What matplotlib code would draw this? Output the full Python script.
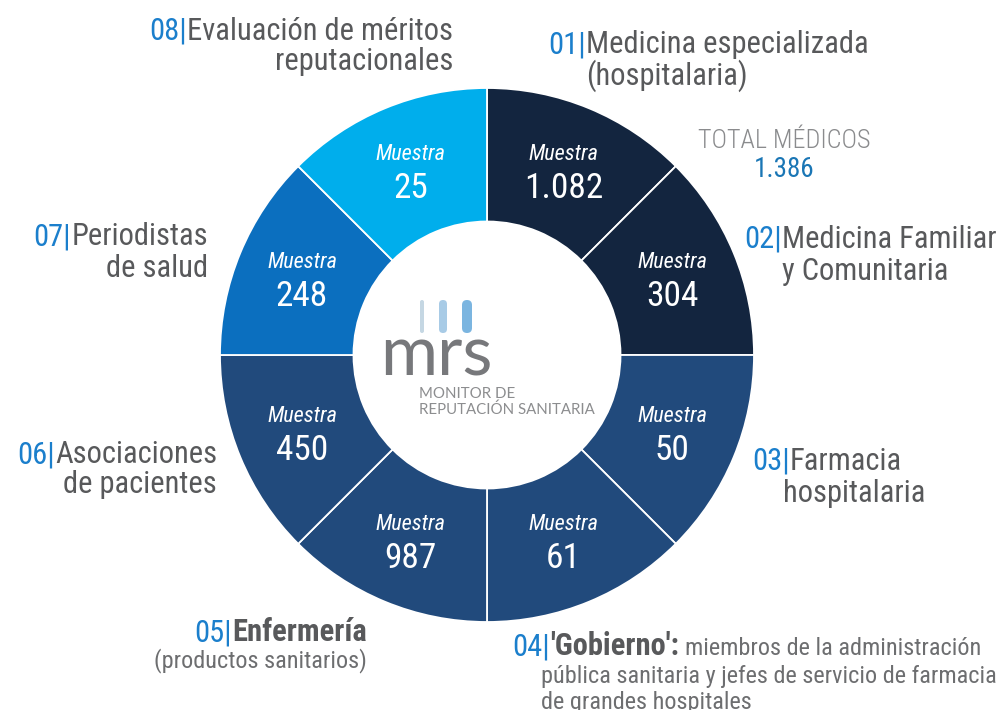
"""
Muestra por grupo de interés: donut de 8 sectores iguales con etiquetas.
"""

import matplotlib
matplotlib.use("Agg")
import matplotlib.pyplot as plt
import numpy as np
from matplotlib import font_manager
from matplotlib.patches import FancyBboxPatch

# ---- datos ---------------------------------------------------------------
codes = ["01", "02", "03", "04", "05", "06", "07", "08"]
titles = [
    ["Medicina especializada", "(hospitalaria)"],
    ["Medicina Familiar", "y Comunitaria"],
    ["Farmacia", "hospitalaria"],
    ["'Gobierno':"],
    ["Enfermería"],
    ["Asociaciones", "de pacientes"],
    ["Periodistas", "de salud"],
    ["Evaluación de méritos", "reputacionales"],
]
samples = ["1.082", "304", "50", "61", "987", "450", "248", "25"]
segment_share = [1, 1, 1, 1, 1, 1, 1, 1]  # sectores iguales
colors = ["#13253f", "#13253f", "#214a7c", "#214a7c",
          "#214a7c", "#214a7c", "#0b6fbf", "#00aeec"]
gobierno_desc = ["miembros de la administración",
                 "pública sanitaria y jefes de servicio de farmacia",
                 "de grandes hospitales"]
enfermeria_sub = "(productos sanitarios)"
total_label = "TOTAL MÉDICOS"
total_value = "1.386"

# ---- fuentes -------------------------------------------------------------
_names = {f.name for f in font_manager.fontManager.ttflist}


def pick(*cands):
    for c in cands:
        if c in _names:
            return c
    return "DejaVu Sans"


NARROW = pick("Liberation Sans Narrow", "Roboto Condensed",
              "Open Sans Condensed", "Noto Sans Condensed", "Roboto")
LOGO = pick("Lato", "Open Sans", "DejaVu Sans")

GRAY = "#58595b"
SOFT = "#6d6e70"
BLUE = "#1b7fcc"
FS = 22
FS_SMALL = 17.5

# ---- figura: 1 unidad = 267 px, centro en (487, 355) px ------------------
W, H = 1008, 710
CX, CY, R = 487, 355, 267

fig = plt.figure(figsize=(W / 100, H / 100), dpi=100)
ax = fig.add_axes([0, 0, 1, 1])


def P(x, y):
    """pixel (origen arriba-izquierda) -> datos"""
    return (x - CX) / R, (CY - y) / R


wedges, _ = ax.pie(
    segment_share,
    colors=colors,
    startangle=90,
    counterclock=False,
    radius=1.0,
    wedgeprops=dict(width=0.5, edgecolor="white", linewidth=1.3),
)
# pie() fija sus propios límites: los reponemos después
ax.set_xlim(-CX / R, (W - CX) / R)
ax.set_ylim(-(H - CY) / R, CY / R)
ax.set_aspect("equal")
ax.axis("off")

for w, val in zip(wedges, samples):
    ang = np.deg2rad((w.theta1 + w.theta2) / 2)
    x, y = 0.75 * np.cos(ang), 0.75 * np.sin(ang)
    ax.text(x, y + 10 / R, "Muestra", ha="center", va="baseline",
            color="white", fontsize=16, style="italic", family=NARROW)
    ax.text(x, y - 28 / R, val, ha="center", va="baseline",
            color="white", fontsize=25.5, family=NARROW)

fig.canvas.draw()
renderer = fig.canvas.get_renderer()
inv = ax.transData.inverted()


def right_edge(t):
    bb = t.get_window_extent(renderer)
    return inv.transform((bb.x1, bb.y0))[0]


def left_edge(t):
    bb = t.get_window_extent(renderer)
    return inv.transform((bb.x0, bb.y0))[0]


def label(code, lines, side, x, y1, y2=None, x2=None, weight="normal"):
    """side 'L': texto alineado a la derecha en x; 'R': empieza en x."""
    ha = "left" if side == "R" else "right"
    t = ax.text(*P(x, y1), lines[0], ha=ha, va="baseline",
                color=GRAY, fontsize=FS, family=NARROW, weight=weight)
    x0 = P(x, y1)[0] if side == "R" else left_edge(t)
    ax.text(x0, P(x, y1)[1], code + "|", ha="right", va="baseline",
            color=BLUE, fontsize=FS, family=NARROW)
    if len(lines) > 1:
        ax.text(*P(x2 if x2 else x, y2), lines[1], ha=ha, va="baseline",
                color=GRAY, fontsize=FS, family=NARROW, weight=weight)
    return t


label(codes[0], titles[0], "R", 586, 53, 85)
label(codes[1], titles[1], "R", 782, 248, 280)
label(codes[2], titles[2], "R", 790, 470, 502, x2=783)
g = label(codes[3], titles[3], "R", 550, 655, weight="bold")
label(codes[4], titles[4], "L", 367, 641, weight="bold")
label(codes[5], titles[5], "L", 217, 463, 493)
label(codes[6], titles[6], "L", 208, 245, 277)
label(codes[7], titles[7], "L", 453, 40, 70)

# 05 subtítulo
ax.text(*P(367, 667), enfermeria_sub, ha="right", va="baseline",
        color=SOFT, fontsize=FS_SMALL, family=NARROW)

# 04 descripción
ax.text(right_edge(g) + 6 / R, P(0, 655)[1], gobierno_desc[0], ha="left",
        va="baseline", color=SOFT, fontsize=FS_SMALL, family=NARROW)
ax.text(*P(541, 683), gobierno_desc[1], ha="left", va="baseline",
        color=SOFT, fontsize=FS_SMALL, family=NARROW)
ax.text(*P(541, 709), gobierno_desc[2], ha="left", va="baseline",
        color=SOFT, fontsize=FS_SMALL, family=NARROW)

# total médicos
ax.text(*P(784, 148), total_label, ha="center", va="baseline",
        color="#8a8b8d", fontsize=18.8, family=NARROW, weight="light")
ax.text(*P(784, 177), total_value, ha="center", va="baseline",
        color="#1a76b5", fontsize=19.5, family=NARROW)

# ---- logo central --------------------------------------------------------
for (bx, bw, bc) in [(420, 4, "#c5d7e3"), (439, 8, "#a8cbe6"),
                     (462, 10, "#7bb5e0")]:
    x0, y0 = P(bx, 333)
    ax.add_patch(FancyBboxPatch(
        (x0, y0), bw / R, 33 / R,
        boxstyle=f"round,pad=0,rounding_size={bw / 2 / R}",
        facecolor=bc, edgecolor="none", zorder=5))
ax.text(*P(380, 376), "mrs", ha="left", va="baseline", color="#77787b",
        fontsize=50, family=LOGO)
ax.text(*P(419, 398), "MONITOR DE", ha="left", va="baseline",
        color="#8c8d8f", fontsize=10.8, family=LOGO)
ax.text(*P(419, 414), "REPUTACIÓN SANITARIA", ha="left", va="baseline",
        color="#8c8d8f", fontsize=10.8, family=LOGO)

fig.savefig("out.png", dpi=100)
